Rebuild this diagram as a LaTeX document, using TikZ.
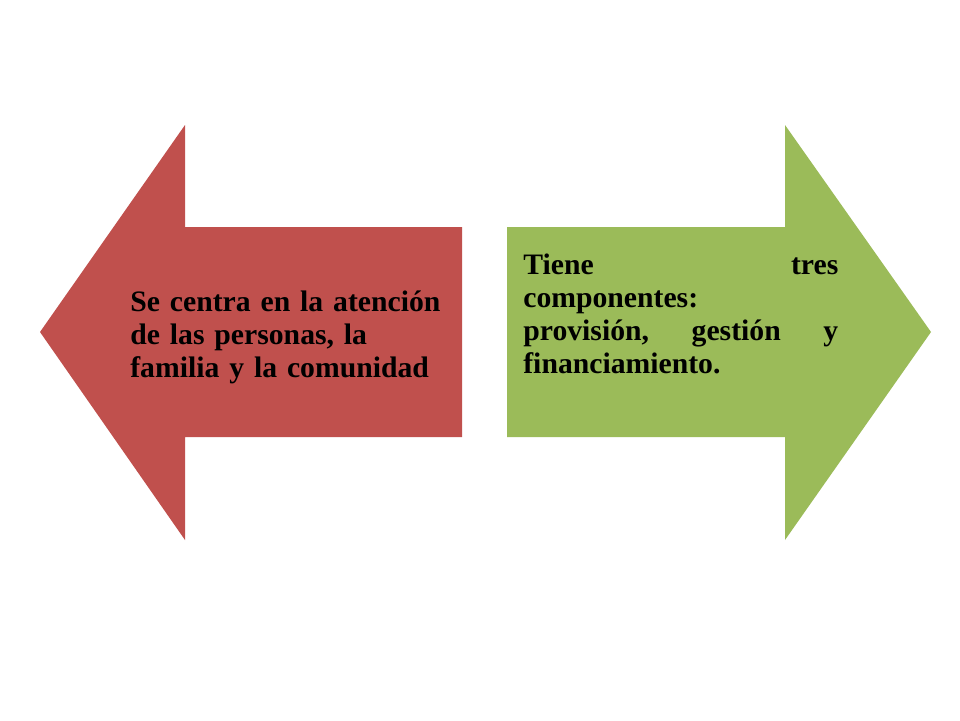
\documentclass[tikz,border=0pt]{standalone}
\usepackage{fontspec}
\setmainfont{Liberation Serif}
\usepackage{xcolor}
\definecolor{rojo}{HTML}{C0504D}
\definecolor{verde}{HTML}{9BBB59}

\begin{document}
\begin{tikzpicture}[x=0.02cm,y=-0.02cm,
    every node/.style={inner sep=0pt, align=left,
      font=\bfseries\fontsize{16.9}{18.8}\selectfont}]
    \useasboundingbox (0,0) rectangle (960,720);
    \fill[rojo] (40,332) -- (185,125) -- (185,227) -- (462,227)
      -- (462,437) -- (185,437) -- (185,540) -- cycle;
    \fill[verde] (931,332) -- (785,125) -- (785,227) -- (507,227)
      -- (507,437) -- (785,437) -- (785,540) -- cycle;
    \node[anchor=base west, text width=6.4cm] (izq) at (130,311)
      {Se centra en la atención\\ de las personas, la\\ familia y la comunidad};
    \node[anchor=base west, text width=6.3cm] (der) at (523,274)
      {Tiene\hfill tres\\ componentes:\\ provisión,\hfill gestión\hfill y\\ financiamiento.};
\end{tikzpicture}
\end{document}
